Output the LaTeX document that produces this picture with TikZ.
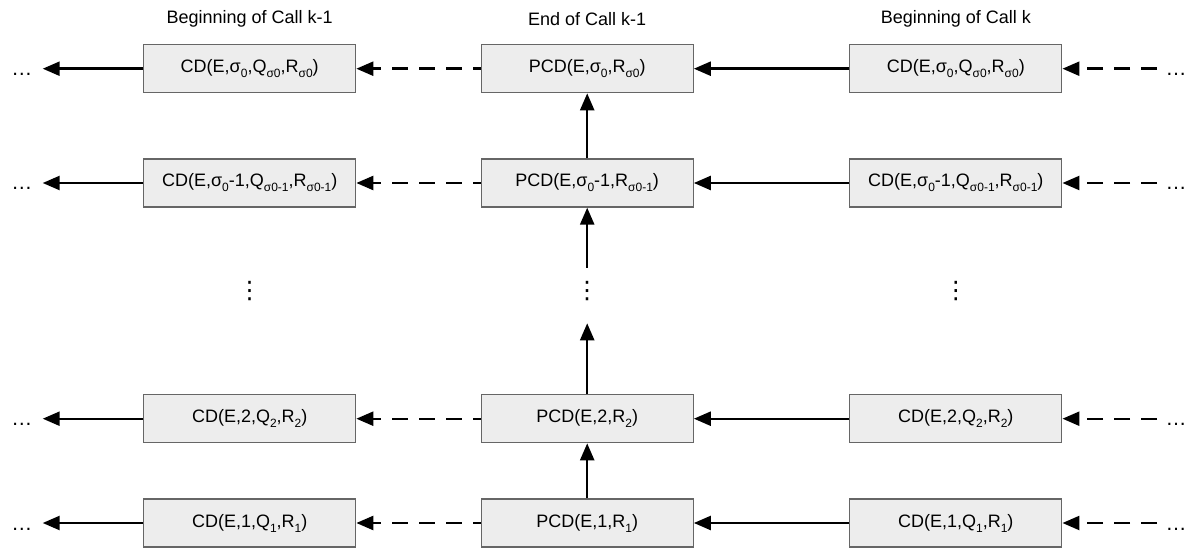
\documentclass[tikz,border=0pt]{standalone}
\usepackage{fontspec}
\setmainfont{Liberation Sans}
\newfontfamily\dvfont{DejaVu Sans}
\usetikzlibrary{arrows.meta}
\newcommand\sbx[1]{\raisebox{-5pt}{\fontsize{12}{12}\selectfont #1}}
\begin{document}
\begin{tikzpicture}[x=1pt,y=-1pt,
  box/.style={draw=black!60, fill=black!7, line width=1.3pt, minimum width=212pt, minimum height=48pt, inner sep=0pt, font=\fontsize{18}{20}\selectfont},
  title/.style={font=\fontsize{18}{20}\selectfont},
  hdots/.style={font=\fontsize{21}{22}\selectfont, inner sep=0pt},
  vdots/.style={font=\dvfont\fontsize{24}{24}\selectfont, inner sep=0pt},
  conn/.style={line width=2.4pt, -{Triangle[length=17pt,width=14pt]}},
  dconn/.style={conn, dash pattern=on 16pt off 11pt, dash phase=8pt}]
\useasboundingbox (0,0) rectangle (1189,548);
% titles
\node[title] (t1) at (249.7,19) {Beginning of Call k-1};
\node[title] (t2) at (587.2,19) {End of Call k-1};
\node[title] (t3) at (955.8,19) {Beginning of Call k};
% row 1
\node[box] (l1) at (249.7,68.7) {CD(E,σ\sbx{0},Q\sbx{σ0},R\sbx{σ0})};
\node[box] (m1) at (587.2,68.7) {PCD(E,σ\sbx{0},R\sbx{σ0})};
\node[box] (r1) at (955.8,68.7) {CD(E,σ\sbx{0},Q\sbx{σ0},R\sbx{σ0})};
% row 2
\node[box] (l2) at (249.7,183) {CD(E,σ\sbx{0}-1,Q\sbx{σ0-1},R\sbx{σ0-1})};
\node[box] (m2) at (587.2,183) {PCD(E,σ\sbx{0}-1,R\sbx{σ0-1})};
\node[box] (r2) at (955.8,183) {CD(E,σ\sbx{0}-1,Q\sbx{σ0-1},R\sbx{σ0-1})};
% row 4
\node[box] (l4) at (249.7,418.7) {CD(E,2,Q\sbx{2},R\sbx{2})};
\node[box] (m4) at (587.2,418.7) {PCD(E,2,R\sbx{2})};
\node[box] (r4) at (955.8,418.7) {CD(E,2,Q\sbx{2},R\sbx{2})};
% row 5
\node[box] (l5) at (249.7,523) {CD(E,1,Q\sbx{1},R\sbx{1})};
\node[box] (m5) at (587.2,523) {PCD(E,1,R\sbx{1})};
\node[box] (r5) at (955.8,523) {CD(E,1,Q\sbx{1},R\sbx{1})};
% vertical dots
\node[vdots] (vl) at (249.7,291) {⋮};
\node[vdots] (vm) at (587.2,291) {⋮};
\node[vdots] (vr) at (955.8,291) {⋮};
% horizontal dots and connectors per row
\foreach \r/\y in {1/68.7,2/183,4/418.7,5/523}{
  \node[hdots, anchor=base] (dl\r) at (22,\y+7) {…};
  \node[hdots, anchor=base] (dr\r) at (1176,\y+7) {…};
  \coordinate (al\r) at (42.7,\y);
  \coordinate (ar\r) at (1157,\y);
  \draw[conn] (l\r.west) -- (al\r);
  \draw[dconn] (m\r.west) -- (l\r.east);
  \draw[conn] (r\r.west) -- (m\r.east);
  \draw[dconn, dash phase=0pt] (ar\r) -- (r\r.east);
}
% vertical connectors
\coordinate (up1) at (587.2,323.3);
\coordinate (up2) at (587.2,267.7);
\draw[conn] (m5.north) -- (m4.south);
\draw[conn] (m4.north) -- (up1);
\draw[conn] (up2) -- (m2.south);
\draw[conn] (m2.north) -- (m1.south);
\end{tikzpicture}
\end{document}
